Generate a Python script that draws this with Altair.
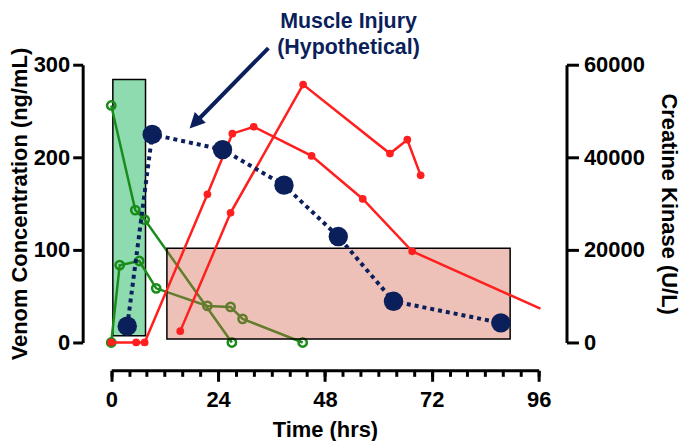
import altair as alt
import pandas as pd

# ---- data ----
# Venom concentration (ng/mL), left axis
g1_t = [0, 1.9, 6.3, 10.1, 21.6, 26.8, 29.5, 43.0]
g1_v = [0, 83.5, 88, 58.5, 39.5, 38.4, 25.5, 0]
g2_t = [0, 5.4, 7.5, 27.1]
g2_v = [256, 143, 132.7, 0]

# Creatine kinase (U/L), right axis
r1_t = [0, 5.6, 7.5, 21.6, 27.2, 32.0, 45.0, 56.5, 67.6, 96.4]
r1_v = [0, 0, 0, 32000, 45100, 46600, 40300, 31000, 19700, 7300]
r1_marker = [True, True, True, True, True, True, True, True, True, False]
r2_t = [15.5, 26.8, 43.1, 62.6, 66.5, 69.5]
r2_v = [2450, 28000, 55700, 40800, 43800, 36100]

# Hypothetical muscle injury curve (drawn on the left scale)
m_t = [3.6, 9.2, 25.0, 38.8, 51.0, 63.4, 87.5]
m_v = [17.6, 224.7, 208.3, 169.9, 114.4, 44.5, 21.2]

# Shaded windows
green_box = {"t0": 0.36, "t1": 7.7, "v0": 7.2, "v1": 284}
pink_box = {"t0": 12.5, "t1": 89.6, "v0": 3.7, "v1": 101.8}

# Axes
x_ticks = [0, 24, 48, 72, 96]
x_minor = [0, 4, 8, 12, 16, 20, 24, 28, 32, 36, 40, 44, 48, 52, 56, 60, 64, 68, 72, 76, 80, 84, 88, 92, 96]
left_ticks = [0, 100, 200, 300]
right_ticks = [0, 20000, 40000, 60000]

# Annotation
annot_text = ["Muscle Injury", "(Hypothetical)"]
annot_t = [53.3, 53.3]
annot_v = [346, 318]
arrow_line = {"t": 35.3, "v": 318, "t2": 18.85, "v2": 237.3}
arrow_tip = {"t": 17.6, "v": 231.2}

# ---- styling ----
GREEN = "#1a8c1a"
RED = "#ff1f1f"
NAVY = "#0b1f5b"
FONT = "Liberation Sans"

XS = alt.Scale(domain=[0, 96], range=[28.7, 458], nice=False, zero=False)
YL = alt.Scale(domain=[0, 300], nice=False, zero=False)
YR = alt.Scale(domain=[0, 60000], nice=False, zero=False)

x_major_axis = alt.Axis(values=x_ticks, orient="bottom", offset=28, tickSize=11, tickWidth=3,
                        domainWidth=3, labelPadding=8, labelFontSize=22, labelFontWeight="bold",
                        labelFont=FONT, labelColor="black", title="Time (hrs)", titleFont=FONT,
                        titleFontSize=22, titleFontWeight="bold", titlePadding=9, grid=False,
                        labelFlush=False, domainColor="black", tickColor="black")
x_minor_axis = alt.Axis(values=x_minor, orient="bottom", offset=28, tickSize=6, tickWidth=3,
                        domain=False, labels=False, title=None, grid=False, tickColor="black")
y_left_axis = alt.Axis(values=left_ticks, orient="left", tickSize=10, tickWidth=3, domainWidth=3,
                       labelPadding=3, labelFontSize=22, labelFontWeight="bold", labelFont=FONT,
                       labelColor="black", title="Venom Concentration (ng/mL)", titleFont=FONT,
                       titleFontSize=22, titleFontWeight="bold", titlePadding=2, grid=False,
                       domainColor="black", tickColor="black")
y_right_axis = alt.Axis(values=right_ticks, orient="right", format="d", tickSize=12, tickWidth=3,
                        domainWidth=3, labelPadding=5, labelFontSize=22, labelFontWeight="bold",
                        labelFont=FONT, labelColor="black", title="Creatine Kinase (U/L)",
                        titleFont=FONT, titleFontSize=22, titleFontWeight="bold", titlePadding=12,
                        grid=False, domainColor="black", tickColor="black")

# ---- data frames ----
green_df = pd.DataFrame({
    "t": g1_t + g2_t,
    "v": g1_v + g2_v,
    "s": ["g1"] * len(g1_t) + ["g2"] * len(g2_t),
    "i": list(range(len(g1_t))) + list(range(len(g2_t))),
})
red_df = pd.DataFrame({
    "t": r1_t + r2_t,
    "v": r1_v + r2_v,
    "s": ["r1"] * len(r1_t) + ["r2"] * len(r2_t),
    "i": list(range(len(r1_t))) + list(range(len(r2_t))),
    "m": r1_marker + [True] * len(r2_t),
})
navy_df = pd.DataFrame({"t": m_t, "v": m_v, "i": list(range(len(m_t)))})
gbox_df = pd.DataFrame([green_box])
pbox_df = pd.DataFrame([pink_box])
annot_df = pd.DataFrame({"text": annot_text, "t": annot_t, "v": annot_v})
arrow_df = pd.DataFrame([arrow_line])
tip_df = pd.DataFrame([arrow_tip])

# ---- layers ----
green_rect = alt.Chart(gbox_df).mark_rect(fill="#8edbb0", stroke="black", strokeWidth=1.5).encode(
    x=alt.X("t0:Q", scale=XS, axis=x_minor_axis), x2="t1:Q",
    y=alt.Y("v0:Q", scale=YL, axis=y_left_axis), y2="v1:Q")

green_lines = alt.Chart(green_df).mark_line(color=GREEN, strokeWidth=2.5).encode(
    x=alt.X("t:Q", scale=XS, axis=None), y=alt.Y("v:Q", scale=YL, axis=None),
    detail="s:N", order="i:Q")
green_pts = alt.Chart(green_df).mark_point(shape="circle", filled=False, color=GREEN,
                                           strokeWidth=2.5, size=70, opacity=1).encode(
    x=alt.X("t:Q", scale=XS, axis=None), y=alt.Y("v:Q", scale=YL, axis=None))

pink_rect = alt.Chart(pbox_df).mark_rect(fill="#d2644a", fillOpacity=0.4, stroke="black",
                                         strokeWidth=1.5).encode(
    x=alt.X("t0:Q", scale=XS, axis=None), x2="t1:Q",
    y=alt.Y("v0:Q", scale=YL, axis=None), y2="v1:Q")

red_lines = alt.Chart(red_df).mark_line(color=RED, strokeWidth=2.5).encode(
    x=alt.X("t:Q", scale=XS, axis=None), y=alt.Y("v:Q", scale=YR, axis=y_right_axis),
    detail="s:N", order="i:Q")
red_pts = alt.Chart(red_df).transform_filter("datum.m").mark_circle(color=RED, size=60, opacity=1).encode(
    x=alt.X("t:Q", scale=XS, axis=None), y=alt.Y("v:Q", scale=YR, axis=None))

navy_line = alt.Chart(navy_df).mark_line(color=NAVY, strokeWidth=4, strokeDash=[4, 4]).encode(
    x=alt.X("t:Q", scale=XS, axis=x_major_axis), y=alt.Y("v:Q", scale=YL, axis=None), order="i:Q")
navy_pts = alt.Chart(navy_df).mark_circle(color=NAVY, size=380, opacity=1).encode(
    x=alt.X("t:Q", scale=XS, axis=None), y=alt.Y("v:Q", scale=YL, axis=None))

arrow_rule = alt.Chart(arrow_df).mark_rule(color=NAVY, strokeWidth=4).encode(
    x=alt.X("t:Q", scale=XS, axis=None), x2="t2:Q",
    y=alt.Y("v:Q", scale=YL, axis=None), y2="v2:Q")
arrow_head = alt.Chart(tip_df).mark_point(shape="M0,0L0.7,1.4L-0.7,1.4Z", filled=True, color=NAVY,
                                          size=484, angle=224, opacity=1).encode(
    x=alt.X("t:Q", scale=XS, axis=None), y=alt.Y("v:Q", scale=YL, axis=None))

annot = alt.Chart(annot_df).mark_text(font=FONT, fontSize=21.5, fontWeight="bold", color=NAVY,
                                      align="center", baseline="middle").encode(
    x=alt.X("t:Q", scale=XS, axis=None), y=alt.Y("v:Q", scale=YL, axis=None), text="text:N")

chart = alt.layer(
    green_rect, green_lines, green_pts, pink_rect, red_lines, red_pts,
    navy_line, navy_pts, arrow_rule, arrow_head, annot
).resolve_scale(y="independent").resolve_axis(x="independent", y="independent").properties(
    width=486, height=279, padding={"left": 0, "top": 2, "right": 0, "bottom": 0}
).configure_view(stroke=None)

chart.save("out.html", embed_options={"renderer": "svg", "actions": False})
